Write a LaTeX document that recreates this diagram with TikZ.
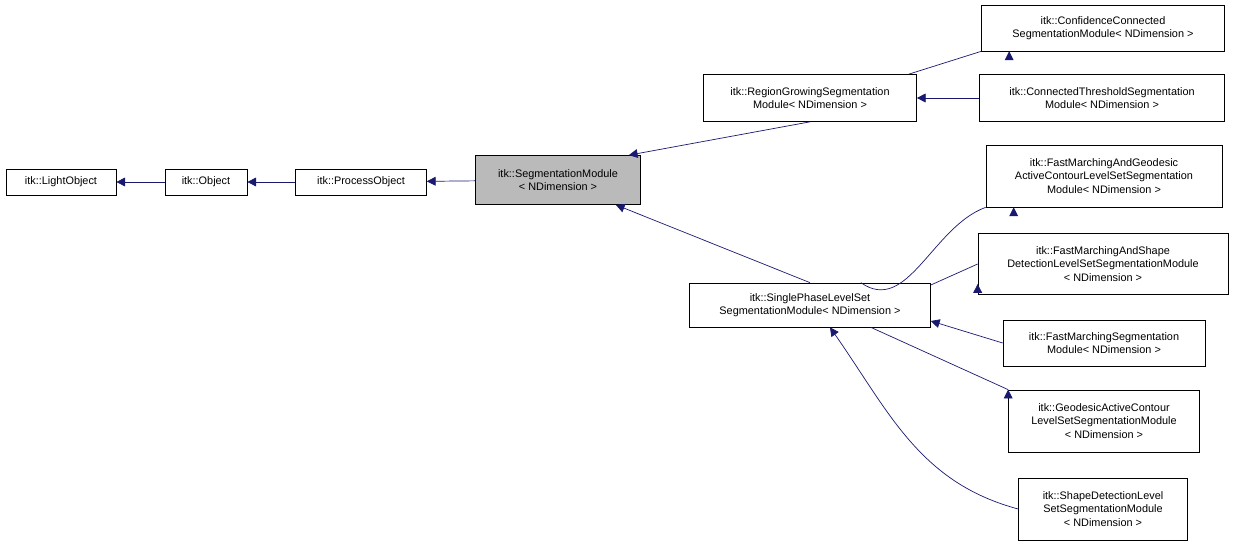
\documentclass[tikz,border=0pt]{standalone}
\usepackage{fontspec}
\setsansfont{Liberation Sans}
\usetikzlibrary{arrows.meta}
\definecolor{edgeblue}{HTML}{191970}
\tikzset{
  cls/.style={draw=black, fill=white, align=center, inner sep=1pt,
    font=\sffamily\fontsize{6.2}{7.6}\selectfont},
  inh/.style={draw=edgeblue, {Triangle[length=5pt,width=5pt]}-, fill=none}
}
\begin{document}
\begin{tikzpicture}[x=0.02cm, y=-0.02cm, >=Stealth]
    %% Background
    \draw[draw=none] (0,0) rectangle (1235,547);

    %% Classes
    \node[cls, minimum width=2.2cm, minimum height=0.52cm] (light) at (61,182) {itk::LightObject};
    \node[cls, minimum width=1.64cm, minimum height=0.52cm] (object) at (206,182) {itk::Object};
    \node[cls, minimum width=2.62cm, minimum height=0.52cm] (process) at (361,182) {itk::ProcessObject};
    \node[cls, fill=black!27, minimum width=3.3cm, minimum height=0.98cm] (segm) at (558,180) {itk::SegmentationModule\\< NDimension >};
    \node[cls, minimum width=4.26cm, minimum height=0.94cm] (region) at (810,98) {itk::RegionGrowingSegmentation\\Module< NDimension >};
    \node[cls, minimum width=4.86cm, minimum height=0.92cm] (confid) at (1103,28) {itk::ConfidenceConnected\\SegmentationModule< NDimension >};
    \node[cls, minimum width=4.9cm, minimum height=0.94cm] (thresh) at (1102,98) {itk::ConnectedThresholdSegmentation\\Module< NDimension >};
    \node[cls, minimum width=4.82cm, minimum height=0.88cm] (single) at (810,305) {itk::SinglePhaseLevelSet\\SegmentationModule< NDimension >};
    \node[cls, minimum width=4.72cm, minimum height=1.24cm] (fmgeo) at (1104,176) {itk::FastMarchingAndGeodesic\\ActiveContourLevelSetSegmentation\\Module< NDimension >};
    \node[cls, minimum width=5.0cm, minimum height=1.22cm] (fmshape) at (1103,264) {itk::FastMarchingAndShape\\DetectionLevelSetSegmentationModule\\< NDimension >};
    \node[cls, minimum width=4.04cm, minimum height=0.92cm] (fmseg) at (1104,343) {itk::FastMarchingSegmentation\\Module< NDimension >};
    \node[cls, minimum width=3.82cm, minimum height=1.24cm] (geodesic) at (1104,421) {itk::GeodesicActiveContour\\LevelSetSegmentationModule\\< NDimension >};
    \node[cls, minimum width=3.38cm, minimum height=1.24cm] (shape) at (1103,509) {itk::ShapeDetectionLevel\\SetSegmentationModule\\< NDimension >};

    %% Inheritance
    \draw[inh] (light) -- (object);
    \draw[inh] (object) -- (process);
    \draw[inh] (process) -- (segm);
    \draw[inh] (segm.north east) ++(-12,0) -- (region.south);
    \draw[inh] (segm.south east) ++(-25,0) -- (single.north);
    \draw[inh] (region.north east) ++(-8,0) -- (confid.south west) ++(28,0);
    \draw[inh] (region) -- (thresh);
    \draw[inh] (single.north east) ++(-70,0) to[out=-35,in=200] (fmgeo.south west) ++(28,0);
    \draw[inh] (single.east) ++(0,-20) -- (fmshape.west) ++(0,20);
    \draw[inh] (single.east) ++(0,16) -- (fmseg.west);
    \draw[inh] (single.south east) ++(-60,0) -- (geodesic.north west) ++(0,0);
    \draw[inh] (single.south) ++(20,0) to[out=-55,in=165] (shape.west);
\end{tikzpicture}
\end{document}
